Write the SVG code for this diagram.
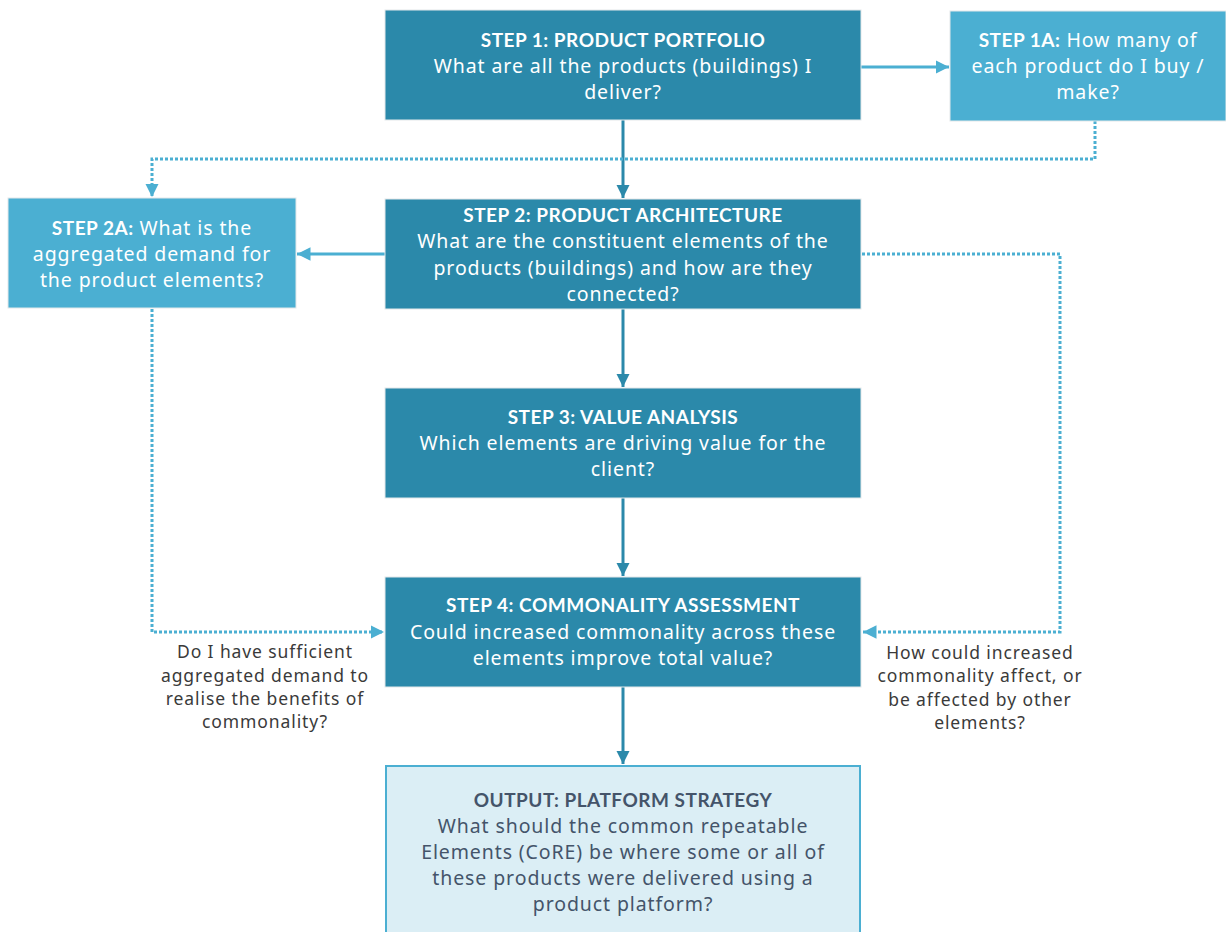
<svg xmlns="http://www.w3.org/2000/svg" width="1226" height="932" viewBox="0 0 1226 932">
<style>
text{font-family:"Noto Sans","Liberation Sans",sans-serif;font-size:19.5px;letter-spacing:0.9px;text-anchor:middle}
.w{fill:#ffffff}
.b{font-family:Lato,"Noto Sans",sans-serif;font-weight:bold;font-size:19px;letter-spacing:0.5px}
.dk{fill:#2b89aa;stroke:#e3e8ea;stroke-width:1}
.lt{fill:#4bafd2;stroke:#e3e8ea;stroke-width:1}
.out{fill:#dbeef5;stroke:#4bafd2;stroke-width:2}
.ot{fill:#44546a}
.lbl{fill:#3a3a3a;font-size:17.5px}
.sd{stroke:#2b89aa;stroke-width:3;fill:none}
.sl{stroke:#4bafd2;stroke-width:3;fill:none}
.dt{stroke:#4bafd2;stroke-width:3;fill:none;stroke-dasharray:3 2}
</style>
<defs>
<marker id="ad" viewBox="0 0 10 10" refX="10" refY="5" markerWidth="4.5" markerHeight="4.5" markerUnits="strokeWidth" orient="auto"><path d="M0,0L10,5L0,10z" fill="#2b89aa"/></marker>
<marker id="al" viewBox="0 0 10 10" refX="10" refY="5" markerWidth="4.5" markerHeight="4.5" markerUnits="strokeWidth" orient="auto"><path d="M0,0L10,5L0,10z" fill="#4bafd2"/></marker>
</defs>
<rect width="1226" height="932" fill="#ffffff"/>
<g id="connectors">
<path class="sd" d="M623,120V198" marker-end="url(#ad)"/>
<path class="sl" d="M861,67H949" marker-end="url(#al)"/>
<path class="dt" d="M1095,121V159H152V197" marker-end="url(#al)"/>
<path class="sl" d="M385,254H297" marker-end="url(#al)"/>
<path class="dt" d="M862,254H1060V632H863" marker-end="url(#al)"/>
<path class="dt" d="M152,309V632H384" marker-end="url(#al)"/>
<path class="sd" d="M623,309V387" marker-end="url(#ad)"/>
<path class="sd" d="M623,498V576" marker-end="url(#ad)"/>
<path class="sd" d="M623,687V764" marker-end="url(#ad)"/>
</g>
<g id="step1">
<rect class="dk" x="385" y="10" width="476" height="110"/>
<text class="w b" x="623" y="47">STEP 1: PRODUCT PORTFOLIO</text>
<text class="w" x="623" y="73">What are all the products (buildings) I</text>
<text class="w" x="623" y="99">deliver?</text>
</g>
<g id="step1a">
<rect class="lt" x="950" y="11" width="276" height="110"/>
<text class="w" x="1088" y="47"><tspan class="b">STEP 1A:</tspan> How many of</text>
<text class="w" x="1088" y="73">each product do I buy /</text>
<text class="w" x="1088" y="99">make?</text>
</g>
<g id="step2">
<rect class="dk" x="385" y="199" width="476" height="110"/>
<text class="w b" x="623" y="222">STEP 2: PRODUCT ARCHITECTURE</text>
<text class="w" x="623" y="248">What are the constituent elements of the</text>
<text class="w" x="623" y="275">products (buildings) and how are they</text>
<text class="w" x="623" y="301">connected?</text>
</g>
<g id="step2a">
<rect class="lt" x="8" y="198" width="288" height="110"/>
<text class="w" x="152" y="235"><tspan class="b">STEP 2A:</tspan> What is the</text>
<text class="w" x="152" y="261">aggregated demand for</text>
<text class="w" x="152" y="287">the product elements?</text>
</g>
<g id="step3">
<rect class="dk" x="385" y="388" width="476" height="110"/>
<text class="w b" x="623" y="424">STEP 3: VALUE ANALYSIS</text>
<text class="w" x="623" y="450">Which elements are driving value for the</text>
<text class="w" x="623" y="476">client?</text>
</g>
<g id="step4">
<rect class="dk" x="385" y="577" width="476" height="110"/>
<text class="w b" x="623" y="612">STEP 4: COMMONALITY ASSESSMENT</text>
<text class="w" x="623" y="639">Could increased commonality across these</text>
<text class="w" x="623" y="665">elements improve total value?</text>
</g>
<g id="label-left">
<text class="lbl" x="265" y="658">Do I have sufficient</text>
<text class="lbl" x="265" y="682">aggregated demand to</text>
<text class="lbl" x="265" y="705">realise the benefits of</text>
<text class="lbl" x="265" y="728">commonality?</text>
</g>
<g id="label-right">
<text class="lbl" x="980" y="659">How could increased</text>
<text class="lbl" x="980" y="682">commonality affect, or</text>
<text class="lbl" x="980" y="706">be affected by other</text>
<text class="lbl" x="980" y="729">elements?</text>
</g>
<g id="output">
<rect class="out" x="386" y="766" width="474" height="170"/>
<text class="ot b" x="623" y="807">OUTPUT: PLATFORM STRATEGY</text>
<text class="ot" x="623" y="833">What should the common repeatable</text>
<text class="ot" x="623" y="859">Elements (CoRE) be where some or all of</text>
<text class="ot" x="623" y="885">these products were delivered using a</text>
<text class="ot" x="623" y="911">product platform?</text>
</g>
</svg>
